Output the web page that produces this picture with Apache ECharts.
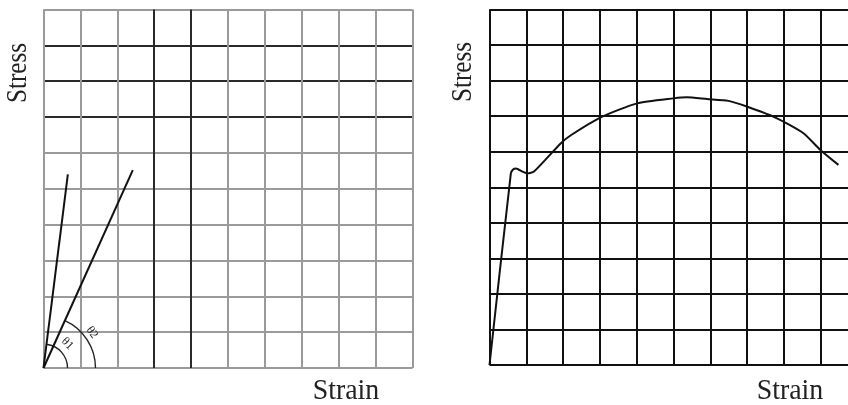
<!DOCTYPE html>
<html><head><meta charset="utf-8">
<script src="https://cdn.jsdelivr.net/npm/echarts@6/dist/echarts.min.js"></script>
<style>html,body{margin:0;padding:0;background:#fff}#c{width:848px;height:405px}</style>
</head><body><div id="c"></div>
<script>
// ---- data ----
const axisNames = ['Strain', 'Stress'];
const angleLabels = ['θ1', 'θ2'];
const strainRange = [0, 10];
const strainRangeRight = [0, 9.74];   // right panel is cut off by the image edge
const stressRange = [0, 10];
// left chart: two elastic lines from the origin
const line1 = [[0, 0], [0.66, 5.40]];
const line2 = [[0, 0], [2.42, 5.52]];
// right chart: stress-strain curve
const curveStrain = [0, 0.58, 0.64, 0.72, 0.90, 1.03, 1.21, 1.94, 2.22, 3.01, 4.01, 5.00, 5.36, 5.91, 6.49, 6.99, 7.81, 8.53, 8.99, 9.48];
const curveStress = [0, 5.39, 5.50, 5.53, 5.44, 5.39, 5.44, 6.24, 6.47, 6.96, 7.36, 7.50, 7.53, 7.48, 7.43, 7.27, 6.94, 6.52, 6.05, 5.63];

// ---- styling ----
const G = '#9a9a9a', D = '#2a2a2a';
const leftXColors = [G, G, G, D, D, G, G, G, G, G, G];
const leftYColors = [G, G, G, G, G, G, G, D, D, D, G];
const serif = '"Liberation Serif", "DejaVu Serif", serif';
const angleLines = [line1, line2];
const arcRadiusPx = [24, 52];
const labelRadiusPx = [34, 60];

function valueAxis(range, gridIndex, colors, width, showMax) {
  return {
    type: 'value', gridIndex: gridIndex, min: range[0], max: range[1], interval: 1,
    axisLine: {show: false}, axisTick: {show: false}, axisLabel: {show: false},
    splitLine: {show: true, showMinLine: true, showMaxLine: showMax, lineStyle: {color: colors, width: width}}
  };
}

function renderAngle(params, api) {
  const i = api.value(0);
  const ln = angleLines[i];
  const o = api.coord(ln[0]);
  const e = api.coord(ln[1]);
  const ang = Math.atan2(e[1] - o[1], e[0] - o[0]);
  const la = ang * 0.55;
  const lr = labelRadiusPx[i];
  return {
    type: 'group',
    children: [
      {type: 'arc', shape: {cx: o[0], cy: o[1], r: arcRadiusPx[i], startAngle: ang, endAngle: 0, clockwise: true},
       style: {stroke: '#222', lineWidth: 1.4, fill: null}},
      {type: 'text', x: o[0] + lr * Math.cos(la), y: o[1] + lr * Math.sin(la),
       rotation: -(Math.PI / 2 + la),
       style: {text: angleLabels[i], font: '12px ' + serif, fill: '#222', align: 'center', verticalAlign: 'middle'}}
    ]
  };
}

const chart = echarts.init(document.getElementById('c'), null, {renderer: 'canvas'});
chart.setOption({
  animation: false,
  backgroundColor: '#fff',
  grid: [
    {left: 43.5, top: 9.5, width: 369, height: 358.5},
    {left: 489.5, top: 9.5, width: 358.5, height: 355.5}
  ],
  xAxis: [
    valueAxis(strainRange, 0, leftXColors, 2, true),
    valueAxis(strainRangeRight, 1, ['#111'], 2, false)
  ],
  yAxis: [
    valueAxis(stressRange, 0, leftYColors, 2, true),
    valueAxis(stressRange, 1, ['#111'], 2, true)
  ],
  series: [
    {type: 'line', xAxisIndex: 0, yAxisIndex: 0, data: line1, showSymbol: false, lineStyle: {color: '#111', width: 2}},
    {type: 'line', xAxisIndex: 0, yAxisIndex: 0, data: line2, showSymbol: false, lineStyle: {color: '#111', width: 2}},
    {type: 'custom', xAxisIndex: 0, yAxisIndex: 0, data: [[0], [1]], renderItem: renderAngle, clip: false},
    {type: 'line', xAxisIndex: 1, yAxisIndex: 1, data: curveStrain.map((x, k) => [x, curveStress[k]]),
     showSymbol: false, smooth: 0.2, lineStyle: {color: '#111', width: 2}}
  ],
  graphic: [
    {type: 'text', x: 346, y: 391, scaleX: 0.93, style: {text: axisNames[0], font: '30px ' + serif, fill: '#222', align: 'center', verticalAlign: 'middle'}},
    {type: 'text', x: 790, y: 391, scaleX: 0.93, style: {text: axisNames[0], font: '30px ' + serif, fill: '#222', align: 'center', verticalAlign: 'middle'}},
    {type: 'text', x: 18, y: 73, rotation: Math.PI / 2, scaleX: 0.84, style: {text: axisNames[1], font: '30px ' + serif, fill: '#222', align: 'center', verticalAlign: 'middle'}},
    {type: 'text', x: 463, y: 72, rotation: Math.PI / 2, scaleX: 0.84, style: {text: axisNames[1], font: '30px ' + serif, fill: '#222', align: 'center', verticalAlign: 'middle'}}
  ]
});
</script></body></html>
